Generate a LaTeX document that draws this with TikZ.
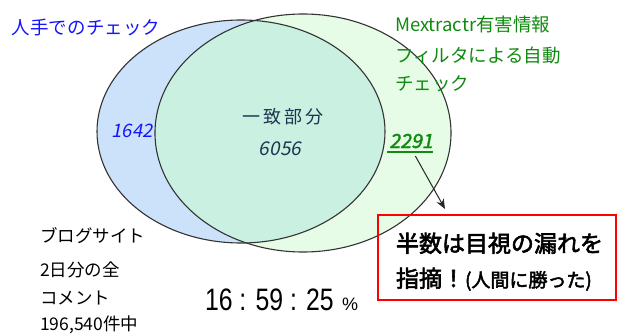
\documentclass[tikz,border=0pt]{standalone}
\usepackage{fontspec}
\usetikzlibrary{arrows.meta}
\setmainfont{Liberation Sans}
\newfontfamily\jp{Noto Sans CJK JP}
\newfontfamily\jpit[FakeSlant=0.2]{Noto Sans CJK JP}
\newfontfamily\jpb[FakeBold=2.5]{Noto Sans CJK JP}
\newfontfamily\jpbit[FakeBold=2,FakeSlant=0.2]{Noto Sans CJK JP}
\definecolor{bluefill}{HTML}{CCE2FA}
\definecolor{greenfill}{HTML}{E6FCE6}
\definecolor{overlapfill}{HTML}{C9F0E0}
\definecolor{outline}{HTML}{333333}
\definecolor{jpblue}{HTML}{1414FF}
\definecolor{jpgreen}{HTML}{108A10}
\definecolor{navy}{HTML}{1E3550}
\tikzset{
  lbl/.style={anchor=base west, inner sep=0pt, outer sep=0pt},
  clbl/.style={anchor=base, inner sep=0pt, outer sep=0pt},
  ring/.style={draw=outline, line width=1.1pt},
}
\begin{document}
\begin{tikzpicture}[x=1pt,y=-1pt]
\useasboundingbox (0,0) rectangle (618,334);
\fill[white] (0,0) rectangle (618,334);
% ellipses
\fill[bluefill] (241,131.5) ellipse [x radius=144pt, y radius=111.5pt];
\fill[greenfill] (303,133) ellipse [x radius=148pt, y radius=119pt];
\begin{scope}
  \clip (241,131.5) ellipse [x radius=144pt, y radius=111.5pt];
  \fill[overlapfill] (303,133) ellipse [x radius=148pt, y radius=119pt];
\end{scope}
\draw[ring] (241,131.5) ellipse [x radius=144pt, y radius=111.5pt];
\draw[ring] (303,133) ellipse [x radius=148pt, y radius=119pt];

% titles
\node[lbl, text=jpblue, font=\jp\fontsize{18.5}{20}\selectfont] (human) at (12,34.5) {人手でのチェック};
\node[lbl, text=jpgreen, font=\jp\fontsize{18.5}{20}\selectfont] (mx1) at (395,32) {Mextractr有害情報};
\node[lbl, text=jpgreen, font=\jp\fontsize{18.5}{20}\selectfont] (mx2) at (395,63) {フィルタによる自動};
\node[lbl, text=jpgreen, font=\jp\fontsize{18.5}{20}\selectfont] (mx3) at (395,90.5) {チェック};

% region labels
\node[clbl, text=navy, font=\jp\fontsize{18}{20}\selectfont] (match) at (283,124) {一\kern3pt 致\kern3pt 部\kern3pt 分};
\node[clbl, text=navy, font=\jpit\fontsize{19}{20}\selectfont] (n6056) at (280,155) {6056};
\node[clbl, text=jpblue, font=\jpit\fontsize{18.5}{20}\selectfont] (n1642) at (132,137) {1642};
\node[clbl, text=jpgreen, font=\jpbit\fontsize{19.5}{20}\selectfont] (n2291) at (411,148) {2291};
\draw[jpgreen, line width=1.8pt] ([yshift=-4pt,xshift=-2pt]n2291.south west) -- ([yshift=-4pt]n2291.south east);

% arrow
\coordinate (arrowtip) at (445,209);
\draw[-{Stealth[length=10pt,width=8pt]}, line width=1pt, black!85, shorten <=9pt] (n2291.south) -- (arrowtip);

% red box
\node[draw=red, line width=1.5pt, anchor=north west, minimum width=238pt, minimum height=85pt, inner sep=0pt, outer sep=0pt] (box) at (378,215) {};
\node[lbl, font=\jpb\fontsize{23}{24}\selectfont] (box1) at (396,252) {半数は目視の漏れを};
\node[lbl, font=\jpb\fontsize{23}{24}\selectfont] (box2) at (396,287) {指摘！{\fontsize{19}{20}\selectfont (人間に勝った)}};

% left text
\node[lbl, font=\jp\fontsize{17.5}{20}\selectfont] (blog1) at (40,242) {ブログサイト};
\node[lbl, font=\jp\fontsize{17.5}{20}\selectfont] (blog2) at (40,276) {2日分の全};
\node[lbl, font=\jp\fontsize{17.5}{20}\selectfont] (blog3) at (40,304) {コメント};
\node[lbl, font=\jp\fontsize{17.5}{20}\selectfont] (blog4) at (40,330) {196,540件中};

% ratio
\node[lbl, font=\fontsize{31}{32}\selectfont] (ratio) at (205,310) {\scalebox{0.8}[1]{16 : 59 : 25}};
\node[lbl, font=\fontsize{18}{18}\selectfont] (pct) at (342,310) {\%};
\end{tikzpicture}
\end{document}
